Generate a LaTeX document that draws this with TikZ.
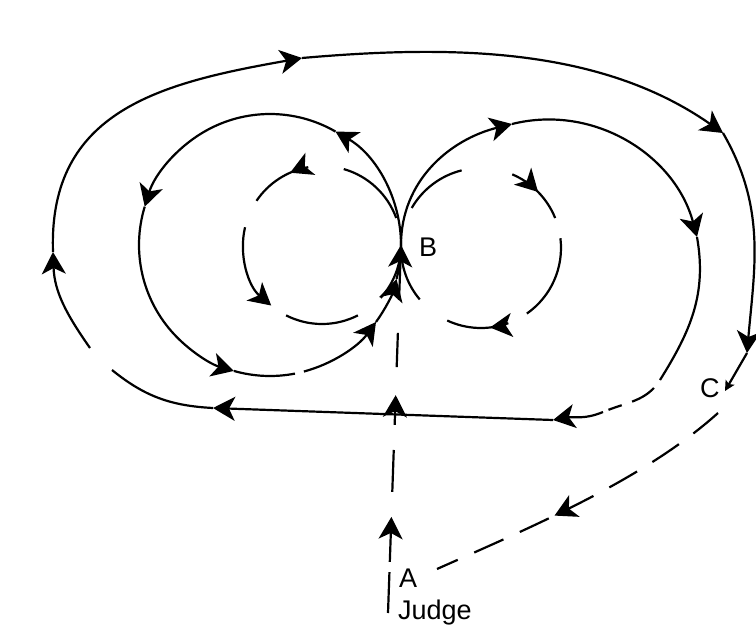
\documentclass[tikz,border=0pt]{standalone}
\usepackage{fontspec}
\setmainfont{Liberation Sans}
\usepackage{tikz}
\usetikzlibrary{arrows.meta,calc,decorations.markings}

\begin{document}
\begin{tikzpicture}[x=0.5pt, y=0.5pt, line width=1.1pt,
    every node/.style={font=\fontsize{13.5}{15}\selectfont, inner sep=0pt},
    withtip/.style={-{Stealth[length=11pt,width=12pt,inset=3pt]}},
    smalltip/.style={-{Stealth[length=5pt,width=5pt,inset=1pt]}},
    arrowat/.style={postaction={decorate, decoration={markings,
        mark=at position #1 with {\arrow{Stealth[length=11pt,width=12pt,inset=3pt]}}}}}]
  \useasboundingbox (0,0) rectangle (756,629);

  % points of the ride
  \coordinate (a) at (388,16);
  \coordinate (b) at (401,384);
  \coordinate (c) at (725,238);
  \coordinate (cstart) at (718,216);
  \coordinate (aend) at (437,60);
  \coordinate (lc) at (270,384);
  \coordinate (li) at (322,384);
  \coordinate (ri) at (481,381);

  \node[anchor=base west] (A) at (398,42) {A};
  \node[anchor=base west] (judge) at (397,10) {Judge};
  \node[anchor=base west] (B) at (418,373) {B};
  \node[anchor=base west] (C) at (699,232) {C};

  % centre line from A up to B
  \foreach \s/\e in {0/0.111, 0.329/0.443, 0.668/0.761}
    \draw ($(a)!\s!(b)$) -- ($(a)!\e!(b)$);
  \foreach \s/\e in {0.139/0.261, 0.511/0.592, 0.851/1}
    \draw[withtip] ($(a)!\s!(b)$) -- ($(a)!\e!(b)$);

  % left circle
  \foreach \s/\e in {0/60, 60/163, 163/254, 285/324, 324/345}
    \draw[withtip] ($(lc)+(\s:131)$) arc[start angle=\s, end angle=\e, radius=131];
  \foreach \s/\e in {254/281, 345/360}
    \draw ($(lc)+(\s:131)$) arc[start angle=\s, end angle=\e, radius=131];

  % small circles, broken
  \draw[arrowat=0.3] ($(li)+(100:79)$) arc[start angle=100, end angle=146, radius=79];
  \draw[withtip] ($(li)+(167:79)$) arc[start angle=167, end angle=230, radius=79];
  \foreach \s/\e in {20/74, 243/297, 318/360}
    \draw ($(li)+(\s:79)$) arc[start angle=\s, end angle=\e, radius=79];
  \draw[arrowat=0.5] ($(ri)+(67:80)$) arc[start angle=67, end angle=22, radius=80];
  \draw[arrowat=0.3] ($(ri)+(290:80)$) arc[start angle=290, end angle=245, radius=80];
  \foreach \s/\e in {150/104, 7/-55, 220/180}
    \draw ($(ri)+(\s:80)$) arc[start angle=\s, end angle=\e, radius=80];

  % right circle, back along the bottom, round the outside to C
  \draw[withtip] (b) to[out=90,in=194] (512,505);
  \draw[withtip] (512,505) to[out=14,in=105] (697,392);
  \draw (697,392) to[out=-80,in=58] (660,249);
  \draw[dash pattern=on 0pt off 5pt on 13pt off 5.5pt on 7pt off 2pt] (660,249) to[out=238,in=23] (603,217);
  \draw[withtip] (603,217) to[out=203,in=10] (553,209);
  \draw[withtip] (553,209) -- (213,221);
  \draw (213,221) to[out=177,in=-39] (112,259);
  \draw[withtip] (90,281) to[out=125,in=-88] (53,377);
  \draw[withtip] (53,377) to[out=92,in=190,looseness=1.15] (302,571);
  \draw[withtip] (302,571) to[out=5,in=145,looseness=0.9] (723,496);
  \draw[withtip] (723,496) to[out=-60,in=85] (747,276);
  \draw[smalltip] (747,276) -- (c);

  % C back to A
  \draw[dash pattern=on 16pt off 9pt, arrowat=0.6] (cstart) to[out=222,in=24,looseness=0.8] (aend);
\end{tikzpicture}
\end{document}
